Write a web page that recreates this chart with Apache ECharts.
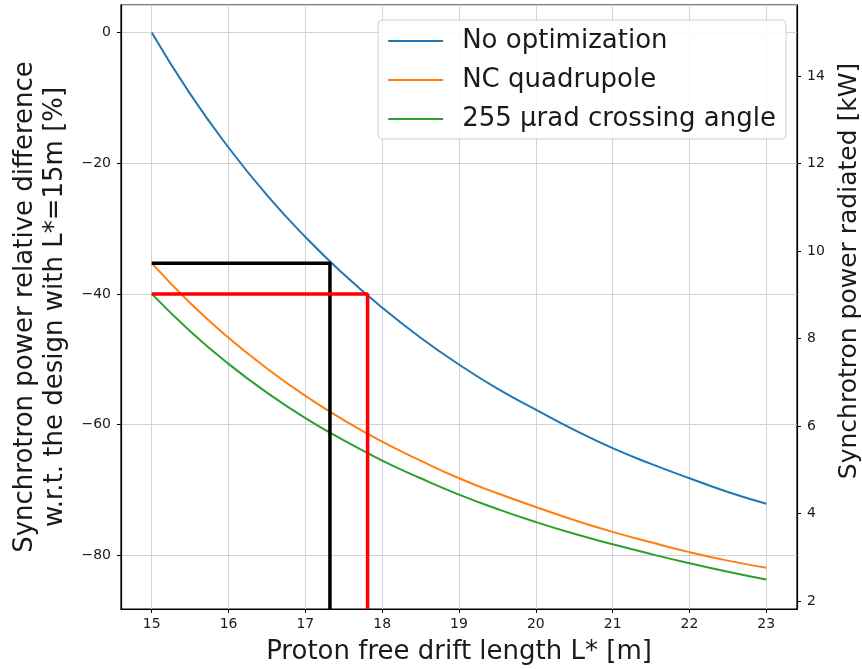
<!DOCTYPE html>
<html>
<head>
<meta charset="utf-8">
<script src="https://cdn.jsdelivr.net/npm/echarts@6/dist/echarts.min.js"></script>
<style>
html,body{margin:0;padding:0;background:#fff;}
#chart{width:862px;height:669px;}
</style>
</head>
<body>
<div id="chart"></div>
<script>
// ---- data ----
var lStar = [15, 15.5, 16, 16.5, 17, 17.5, 18, 18.5, 19, 19.5, 20, 20.5, 21, 21.5, 22, 22.5, 23];
var noOptimization = [0, -9.4, -17.6, -24.9, -31.3, -37.0, -42.1, -46.7, -50.8, -54.5, -57.7, -60.8, -63.6, -66.0, -68.2, -70.3, -72.1];
var ncQuadrupole = [-35.3, -41.4, -46.7, -51.4, -55.6, -59.3, -62.6, -65.5, -68.2, -70.5, -72.6, -74.6, -76.4, -78.0, -79.5, -80.8, -81.9];
var crossingAngle = [-40.0, -45.7, -50.7, -55.1, -59.0, -62.4, -65.5, -68.2, -70.7, -72.9, -74.9, -76.7, -78.3, -79.8, -81.2, -82.5, -83.7];
var seriesNames = ['No optimization', 'NC quadrupole', '255 \u03bcrad crossing angle'];
var seriesColors = ['#1f77b4', '#ff7f0e', '#2ca02c'];
// guide lines: horizontal from L*=15 then vertical down to the axis bottom
var blackGuideX = [15, 17.32, 17.32];
var blackGuideY = [-35.3, -35.3, -88.2];
var redGuideX = [15, 17.81, 17.81];
var redGuideY = [-40.0, -40.0, -88.2];
var xRange = [14.6, 23.4];
var yLeftRange = [-88.2, 4.2];
var yRightRange = [1.815, 15.63];

function pairs(xs, ys){ return xs.map(function(x,i){ return [x, ys[i]]; }); }

var FONT = 'DejaVu Sans';
var chart = echarts.init(document.getElementById('chart'), null, {renderer:'canvas'});

var lineSeries = [noOptimization, ncQuadrupole, crossingAngle].map(function(vals, i){
  return {
    name: seriesNames[i], type: 'line', yAxisIndex: 0,
    data: pairs(lStar, vals), smooth: true, symbol: 'none',
    lineStyle: {color: seriesColors[i], width: 2}, itemStyle: {color: seriesColors[i]},
    z: 2
  };
});
lineSeries.push({
  name: 'guideBlack', type: 'line', yAxisIndex: 0, data: pairs(blackGuideX, blackGuideY),
  symbol: 'none', lineStyle: {color: '#000000', width: 3.5}, z: 5, silent: true
});
lineSeries.push({
  name: 'guideRed', type: 'line', yAxisIndex: 0, data: pairs(redGuideX, redGuideY),
  symbol: 'none', lineStyle: {color: '#ff0000', width: 3.5}, z: 5, silent: true
});

var option = {
  animation: false,
  backgroundColor: '#ffffff',
  grid: {left: 121, right: 65, top: 5, bottom: 60, show: true, borderColor: '#000', borderWidth: 1.2,
    containLabel: false, outerBoundsMode: 'none'},
  legend: {
    data: seriesNames, orient: 'vertical', right: 76, top: 20,
    itemWidth: 55, itemHeight: 14, itemGap: 13,
    icon: 'path://M0,6 L55,6 L55,8 L0,8 Z',
    textStyle: {fontFamily: FONT, fontSize: 26, color: '#1a1a1a', padding: [0, 0, 0, 14]},
    backgroundColor: 'rgba(255,255,255,0.85)', borderColor: '#d0d0d0', borderWidth: 1, borderRadius: 4,
    padding: [8, 10, 7, 10]
  },
  xAxis: {
    type: 'value', min: xRange[0], max: xRange[1], minInterval: 1, maxInterval: 1,
    name: 'Proton free drift length L* [m]', nameLocation: 'middle', nameGap: 30,
    nameTextStyle: {fontFamily: FONT, fontSize: 26, color: '#1a1a1a'},
    axisLine: {onZero: false, lineStyle: {color: '#000', width: 1.2}},
    axisTick: {inside: false, length: 4, lineStyle: {color: '#000'}},
    axisLabel: {fontFamily: FONT, fontSize: 14, color: '#1a1a1a', margin: 8, showMinLabel: false, showMaxLabel: false},
    splitLine: {show: true, lineStyle: {color: '#d3d3d3', width: 1}}
  },
  yAxis: [{
    type: 'value', position: 'left', min: yLeftRange[0], max: yLeftRange[1], minInterval: 20, maxInterval: 20,
    name: 'Synchrotron power relative difference\nw.r.t. the design with L*=15m [%]',
    nameLocation: 'middle', nameGap: 48, nameRotate: 90,
    nameTextStyle: {fontFamily: FONT, fontSize: 26, color: '#1a1a1a', lineHeight: 30, align: 'center'},
    axisLine: {show: true, onZero: false, lineStyle: {color: '#000', width: 1.2}},
    axisTick: {inside: false, length: 4, lineStyle: {color: '#000'}},
    axisLabel: {fontFamily: FONT, fontSize: 14, color: '#1a1a1a', margin: 10, showMinLabel: false, showMaxLabel: false,
      formatter: function(v){ return v < 0 ? '\u2212' + Math.abs(v) : String(v); }},
    splitLine: {show: true, lineStyle: {color: '#d3d3d3', width: 1}}
  }, {
    type: 'value', position: 'right', min: yRightRange[0], max: yRightRange[1], minInterval: 2, maxInterval: 2,
    name: 'Synchrotron power radiated [kW]', nameLocation: 'middle', nameGap: 40, nameRotate: 90,
    nameTextStyle: {fontFamily: FONT, fontSize: 25, color: '#1a1a1a', padding: [0, 0, 0, 72]},
    axisLine: {show: true, onZero: false, lineStyle: {color: '#000', width: 1.2}},
    axisTick: {inside: false, length: 4, lineStyle: {color: '#000'}},
    axisLabel: {fontFamily: FONT, fontSize: 14, color: '#1a1a1a', margin: 10, showMinLabel: false, showMaxLabel: false},
    splitLine: {show: false}
  }],
  series: lineSeries
};
chart.setOption(option);
</script>
</body>
</html>
